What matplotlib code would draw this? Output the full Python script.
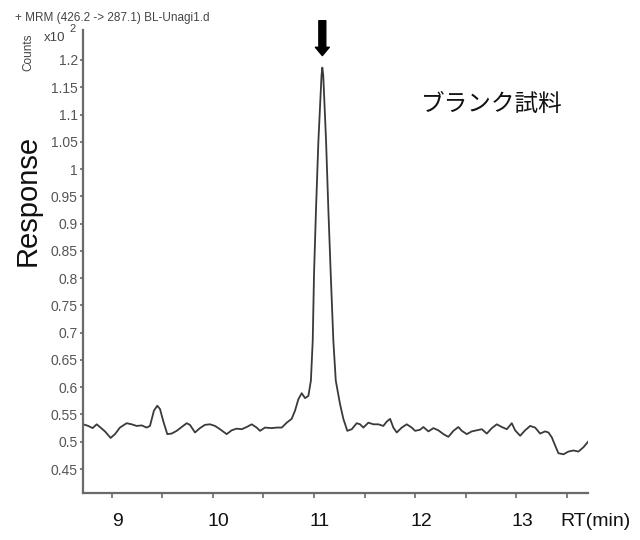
import matplotlib
matplotlib.use("Agg")
import matplotlib.pyplot as plt
from matplotlib.ticker import FuncFormatter, MultipleLocator
from matplotlib.transforms import ScaledTranslation

plt.rcParams['font.family'] = ['Liberation Sans', 'Noto Sans CJK JP', 'DejaVu Sans']

# MRM chromatogram, 426.2 -> 287.1, blank sample
rt = [8.719, 8.769, 8.812, 8.852, 8.884, 8.934, 8.990, 9.033, 9.082, 9.148,
      9.198, 9.247, 9.297, 9.346, 9.379, 9.418, 9.451, 9.478, 9.510, 9.550,
      9.593, 9.643, 9.692, 9.742, 9.774, 9.824, 9.873, 9.923, 9.972, 10.022,
      10.071, 10.137, 10.187, 10.236, 10.286, 10.335, 10.385, 10.434, 10.467, 10.516,
      10.583, 10.632, 10.682, 10.731, 10.780, 10.813, 10.846, 10.879, 10.912, 10.945,
      10.970, 10.988, 11.001, 11.021, 11.044, 11.063, 11.075, 11.083, 11.092, 11.103,
      11.120, 11.142, 11.166, 11.192, 11.216, 11.258, 11.291, 11.330, 11.374, 11.423,
      11.456, 11.489, 11.538, 11.588, 11.637, 11.686, 11.720, 11.753, 11.785, 11.819,
      11.868, 11.918, 11.967, 12.000, 12.049, 12.082, 12.132, 12.181, 12.230, 12.280,
      12.329, 12.379, 12.428, 12.462, 12.511, 12.561, 12.610, 12.660, 12.709, 12.759,
      12.808, 12.858, 12.907, 12.956, 12.989, 13.039, 13.088, 13.138, 13.187, 13.236,
      13.286, 13.319, 13.352, 13.385, 13.417, 13.467, 13.516, 13.566, 13.615, 13.665,
      13.710]
response = [0.532, 0.529, 0.525, 0.532, 0.527, 0.519, 0.507, 0.514, 0.526, 0.534,
            0.532, 0.529, 0.530, 0.526, 0.529, 0.557, 0.566, 0.560, 0.538, 0.514,
            0.515, 0.520, 0.527, 0.534, 0.531, 0.517, 0.525, 0.531, 0.532, 0.529,
            0.523, 0.514, 0.521, 0.524, 0.523, 0.527, 0.532, 0.526, 0.520, 0.526,
            0.525, 0.526, 0.526, 0.535, 0.542, 0.557, 0.578, 0.589, 0.580, 0.584,
            0.612, 0.685, 0.808, 0.929, 1.051, 1.125, 1.172, 1.186, 1.172, 1.125,
            1.051, 0.929, 0.808, 0.685, 0.612, 0.569, 0.542, 0.520, 0.523, 0.534,
            0.532, 0.526, 0.535, 0.532, 0.532, 0.529, 0.537, 0.542, 0.526, 0.517,
            0.526, 0.532, 0.526, 0.520, 0.522, 0.527, 0.519, 0.525, 0.521, 0.514,
            0.509, 0.520, 0.527, 0.520, 0.514, 0.519, 0.521, 0.523, 0.515, 0.525,
            0.532, 0.527, 0.523, 0.534, 0.521, 0.511, 0.521, 0.529, 0.526, 0.515,
            0.519, 0.517, 0.508, 0.493, 0.479, 0.477, 0.482, 0.484, 0.482, 0.490,
            0.500]
assert len(rt) == len(response)

x_labels = [9, 10, 11, 12, 13]
y_ticks = [0.45, 0.5, 0.55, 0.6, 0.65, 0.7, 0.75, 0.8, 0.85, 0.9, 0.95,
           1.0, 1.05, 1.1, 1.15, 1.2]
peak_rt = 11.083

fig = plt.figure(figsize=(6.4, 5.4), dpi=100)
ax = fig.add_axes([0.1302, 0.0876, 0.7886, 0.8569])

ax.plot(rt, response, color='#3a3a3a', lw=1.3)

ax.set_xlim(8.72, 13.71)
ax.set_ylim(0.4066, 1.255)

for side in ('top', 'right'):
    ax.spines[side].set_visible(False)
for side in ('left', 'bottom'):
    ax.spines[side].set_color('#6a6a6a')
    ax.spines[side].set_linewidth(1.6)

ax.set_xticks(x_labels)
ax.set_xticklabels([str(v) for v in x_labels])
ax.xaxis.set_minor_locator(MultipleLocator(0.5))
ax.tick_params(axis='x', which='both', length=3.5, width=1.2, color='#6a6a6a',
               pad=11, labelsize=14, labelcolor='#111111')
# the RT numbers sit a little right of their ticks
shift = ScaledTranslation(6 / 100, 0, fig.dpi_scale_trans)
for lbl in ax.get_xticklabels():
    lbl.set_transform(lbl.get_transform() + shift)

ax.set_yticks(y_ticks)
ax.yaxis.set_major_formatter(FuncFormatter(lambda v, _: f'{v:g}'))
ax.tick_params(axis='y', length=2.5, width=1.2, color='#6a6a6a', pad=1.5,
               labelsize=10, labelcolor='#555555')

# arrow marking the peak
ax.annotate('', xy=(peak_rt, 1.208), xytext=(peak_rt, 1.272),
            arrowprops=dict(width=5, headwidth=10, headlength=6,
                            facecolor='black', edgecolor='black', shrink=0),
            annotation_clip=False)

ax.text(12.757, 1.118, 'ブランク試料', fontsize=17, ha='center', va='center',
        family=['Noto Sans CJK JP'], color='#111111')

fig.text(15 / 640, 1 - 18 / 540, '+ MRM (426.2 -> 287.1) BL-Unagi1.d',
         fontsize=8.5, color='#444444', ha='left', va='center')
fig.text(28 / 640, 1 - 52 / 540, 'Counts', rotation=90, fontsize=8.5,
         color='#444444', ha='center', va='center')
fig.text(55 / 640, 1 - 38 / 540, 'x10', fontsize=9.5, color='#444444',
         ha='center', va='center')
fig.text(73 / 640, 1 - 29 / 540, '2', fontsize=8, color='#444444',
         ha='center', va='center')

fig.text(28 / 640, 1 - 200 / 540, 'Response', rotation=90, fontsize=21,
         color='#111111', ha='center', va='center')
fig.text(560 / 640, 1 - 522 / 540, 'RT(min)', fontsize=14, color='#111111',
         ha='left', va='center')

fig.savefig('out.png', dpi=100)
